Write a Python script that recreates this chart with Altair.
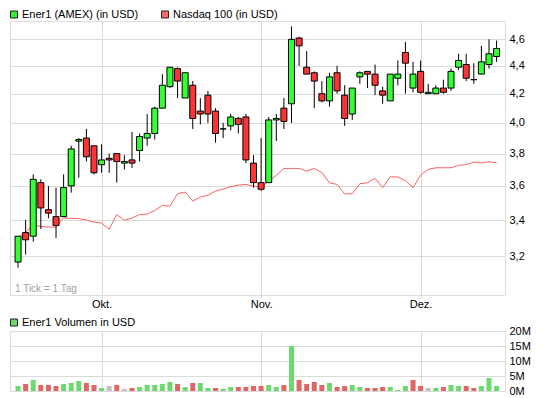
import altair as alt
import pandas as pd

# ---------------- data ----------------
dates = [
    "2010-09-16", "2010-09-17", "2010-09-20", "2010-09-21", "2010-09-22", "2010-09-23",
    "2010-09-24", "2010-09-27", "2010-09-28", "2010-09-29", "2010-09-30",
    "2010-10-01", "2010-10-04", "2010-10-05", "2010-10-06", "2010-10-07", "2010-10-08",
    "2010-10-11", "2010-10-12", "2010-10-13", "2010-10-14", "2010-10-15", "2010-10-18",
    "2010-10-19", "2010-10-20", "2010-10-21", "2010-10-22", "2010-10-25", "2010-10-26",
    "2010-10-27", "2010-10-28", "2010-10-29",
    "2010-11-01", "2010-11-02", "2010-11-03", "2010-11-04", "2010-11-05", "2010-11-08",
    "2010-11-09", "2010-11-10", "2010-11-11", "2010-11-12", "2010-11-15", "2010-11-16",
    "2010-11-17", "2010-11-18", "2010-11-19", "2010-11-22", "2010-11-23", "2010-11-24",
    "2010-11-26", "2010-11-29", "2010-11-30",
    "2010-12-01", "2010-12-02", "2010-12-03", "2010-12-06", "2010-12-07", "2010-12-08",
    "2010-12-09", "2010-12-10", "2010-12-13", "2010-12-14", "2010-12-15",
]
opens = [3.17, 3.33, 3.31, 3.62, 3.46, 3.42, 3.42, 3.60, 3.88, 3.90, 3.85, 3.73, 3.77, 3.80,
         3.74, 3.76, 3.82, 3.90, 3.93, 4.10, 4.25, 4.38, 4.17, 4.26, 4.08, 4.19, 4.08, 3.96,
         3.98, 4.03, 4.04, 3.74, 3.62, 3.62, 4.02, 4.10, 4.13, 4.61, 4.39, 4.35, 4.20, 4.15,
         4.35, 4.19, 4.06, 4.32, 4.36, 4.34, 4.22, 4.15, 4.31, 4.50, 4.24, 4.36, 4.20, 4.20,
         4.24, 4.24, 4.39, 4.41, 4.30, 4.34, 4.41, 4.47]
highs = [3.31, 3.40, 3.67, 3.64, 3.60, 3.59, 3.67, 3.85, 3.90, 3.96, 3.85, 3.86, 3.80, 3.80,
         3.79, 3.94, 3.93, 4.06, 4.11, 4.34, 4.39, 4.39, 4.35, 4.29, 4.17, 4.22, 4.10, 4.00,
         4.06, 4.04, 4.06, 3.79, 3.90, 4.04, 4.06, 4.17, 4.70, 4.62, 4.51, 4.36, 4.29, 4.35,
         4.40, 4.26, 4.24, 4.36, 4.36, 4.41, 4.25, 4.34, 4.44, 4.58, 4.43, 4.44, 4.27, 4.26,
         4.30, 4.38, 4.49, 4.49, 4.42, 4.55, 4.60, 4.59]
lows = [3.14, 3.21, 3.28, 3.35, 3.41, 3.30, 3.42, 3.56, 3.65, 3.75, 3.67, 3.68, 3.68, 3.62,
        3.70, 3.71, 3.75, 3.85, 3.89, 4.10, 4.24, 4.17, 4.17, 3.96, 3.99, 4.00, 3.87, 3.90,
        3.95, 3.93, 3.74, 3.59, 3.57, 3.62, 3.88, 3.96, 4.00, 4.40, 4.34, 4.10, 4.14, 4.11,
        4.20, 3.98, 4.02, 4.27, 4.24, 4.19, 4.13, 4.15, 4.26, 4.20, 4.21, 4.20, 4.20, 4.20,
        4.20, 4.22, 4.37, 4.29, 4.27, 4.34, 4.38, 4.43]
closes = [3.31, 3.29, 3.64, 3.47, 3.44, 3.37, 3.59, 3.83, 3.89, 3.78, 3.68, 3.76, 3.76, 3.75,
          3.75, 3.74, 3.91, 3.93, 4.10, 4.26, 4.39, 4.29, 4.35, 4.03, 4.06, 4.06, 3.93, 3.96,
          4.04, 3.99, 3.76, 3.62, 3.58, 4.02, 4.03, 4.01, 4.60, 4.55, 4.34, 4.29, 4.15, 4.32,
          4.22, 4.03, 4.24, 4.35, 4.34, 4.26, 4.19, 4.34, 4.34, 4.42, 4.34, 4.21, 4.21, 4.24,
          4.21, 4.36, 4.44, 4.31, 4.30, 4.43, 4.49, 4.53]
# Nasdaq 100, rebased onto the Ener1 price scale
nasdaq = [3.300, 3.333, 3.372, 3.364, 3.361, 3.361, 3.413, 3.410, 3.409, 3.400, 3.389, 3.383,
          3.349, 3.432, 3.400, 3.412, 3.432, 3.434, 3.455, 3.484, 3.481, 3.554, 3.563, 3.510,
          3.533, 3.545, 3.569, 3.581, 3.595, 3.605, 3.609, 3.599, 3.593, 3.629, 3.663, 3.707,
          3.707, 3.707, 3.690, 3.707, 3.681, 3.619, 3.609, 3.552, 3.554, 3.613, 3.620, 3.646,
          3.590, 3.656, 3.654, 3.632, 3.589, 3.666, 3.701, 3.711, 3.711, 3.711, 3.726, 3.731,
          3.747, 3.741, 3.749, 3.741]
# volume in millions of USD, and its direction (u = up, d = down, n = unchanged)
volume_m = [1.67, 2.33, 3.67, 2.0, 2.0, 1.67, 2.33, 2.67, 3.33, 2.67, 2.0, 1.0, 1.67, 2.0,
            0.67, 1.0, 1.33, 2.0, 2.0, 2.33, 3.0, 2.33, 1.33, 2.67, 2.67, 1.0, 1.0, 0.67,
            1.33, 1.33, 1.33, 1.67, 1.67, 2.0, 1.33, 2.0, 15.0, 3.67, 2.33, 3.0, 2.0, 2.67,
            1.33, 1.67, 2.0, 1.33, 1.0, 1.0, 1.33, 1.33, 0.33, 1.67, 3.67, 1.67, 1.0, 1.0,
            1.33, 2.0, 1.67, 1.67, 1.0, 1.67, 4.33, 1.67]
vol_dir = ["u", "d", "u", "d", "d", "d", "u", "u", "u", "d", "d", "u", "n", "d",
           "n", "d", "u", "u", "u", "u", "u", "d", "u", "d", "u", "u", "d", "u",
           "u", "d", "d", "d", "d", "u", "u", "d", "u", "d", "d", "d", "d", "u",
           "d", "d", "u", "u", "d", "d", "d", "u", "u", "u", "d", "d", "n", "u",
           "d", "u", "u", "d", "d", "u", "u", "u"]
month_labels = ["Okt.", "Nov.", "Dez."]
price_ticks = [3.2, 3.4, 3.6, 3.8, 4.0, 4.2, 4.4, 4.6]
volume_ticks = [0, 5e6, 10e6, 15e6, 20e6]

# ---------------- table ----------------
df = pd.DataFrame({
    "i": list(range(len(dates))), "date": dates, "open": opens, "high": highs,
    "low": lows, "close": closes, "nasdaq": nasdaq,
    "vol": [v * 1e6 for v in volume_m], "vdir": vol_dir,
})
month_idx = [k for k in range(1, len(dates)) if dates[k][5:7] != dates[k - 1][5:7]]
label_expr = "''"
for k, lab in reversed(list(zip(month_idx, month_labels))):
    label_expr = f"datum.value == {k} ? '{lab}' : ({label_expr})"

# ---------------- style ----------------
FONT = "Liberation Sans"
GRID = "#dadada"
FRAME = "#c8c8c8"
C_UP, C_DOWN = "#33ff33", "#ff3333"
V_UP, V_DOWN, V_FLAT = "#6cd96c", "#e06666", "#c0c0c0"
W, H1, H2 = 495, 274, 60

xscale = alt.Scale(domain=[-0.4, 63.45], nice=False, zero=False)
yscale = alt.Scale(type="log", domain=[3.0, 4.743], nice=False)

x_main_axis = alt.Axis(values=month_idx, labelExpr=label_expr, grid=True, gridColor=GRID,
                       ticks=True, tickSize=3, tickColor=GRID, domain=False, labelPadding=0,
                       labelFont=FONT, labelFontSize=11, labelColor="black", labelAngle=0,
                       title=None)
y_main_axis = alt.Axis(orient="right", values=price_ticks,
                       labelExpr="replace(format(datum.value, '.1f'), '.', ',')",
                       grid=True, gridColor=GRID, ticks=False, domain=False, labelPadding=4,
                       labelFont=FONT, labelFontSize=11, labelColor="black", title=None)

base = alt.Chart(df)

nas_line = base.mark_line(color="#ff6060", strokeWidth=1).encode(
    x=alt.X("i:Q", scale=xscale, axis=x_main_axis),
    y=alt.Y("nasdaq:Q", scale=yscale, axis=y_main_axis),
)
wicks = base.mark_rule(color="black", strokeWidth=1).encode(
    x=alt.X("i:Q"), y=alt.Y("low:Q", title=None), y2="high:Q",
)
bodies = base.transform_calculate(
    lo="min(datum.open, datum.close)",
    hi="max(datum.open, datum.close)",
    col=f"datum.close >= datum.open ? '{C_UP}' : '{C_DOWN}'",
).mark_bar(width=6, stroke="black", strokeWidth=1, orient="vertical", opacity=1).encode(
    x=alt.X("i:Q"), y=alt.Y("lo:Q", title=None), y2="hi:Q",
    fill=alt.Fill("col:N", scale=None),
)


def legend_item(label, fill, sx, tx, ty):
    d = alt.Data(values=[{"t": label}])
    sq = alt.Chart(d).mark_square(size=49, fill=fill, stroke="#222222", strokeWidth=1,
                                  opacity=1).encode(x=alt.value(sx), y=alt.value(ty - 3.5))
    tt = alt.Chart(d).mark_text(align="left", baseline="alphabetic", font=FONT, fontSize=11,
                                color="black").encode(x=alt.value(tx), y=alt.value(ty),
                                                      text="t:N")
    return [sq, tt]


tick_note = alt.Chart(alt.Data(values=[{"t": "1 Tick = 1 Tag"}])).mark_text(
    align="left", baseline="alphabetic", font=FONT, fontSize=10, color="#a0a0a0"
).encode(x=alt.value(5), y=alt.value(H1 - 3), text="t:N")

main = alt.layer(
    nas_line, wicks, bodies, tick_note,
    *legend_item("Ener1 (AMEX) (in USD)", "#33ee33", 4, 12, -3),
    *legend_item("Nasdaq 100 (in USD)", "#ff6666", 155, 163, -3),
).properties(width=W, height=H1)

vol_bars = base.transform_calculate(
    col=f"datum.vdir == 'u' ? '{V_UP}' : (datum.vdir == 'd' ? '{V_DOWN}' : '{V_FLAT}')"
).mark_bar(width=5, orient="vertical").encode(
    x=alt.X("i:Q", scale=xscale,
            axis=alt.Axis(values=month_idx, labels=False, ticks=False, domain=False,
                          grid=True, gridColor=GRID, title=None)),
    y=alt.Y("vol:Q", scale=alt.Scale(domain=[0, 20e6], nice=False),
            axis=alt.Axis(orient="right", values=volume_ticks,
                          labelExpr="(datum.value / 1000000) + 'M'", grid=True,
                          gridColor=GRID, ticks=False, domain=False, labelPadding=4,
                          labelFont=FONT, labelFontSize=11, labelColor="black", title=None)),
    fill=alt.Fill("col:N", scale=None),
)

volume = alt.layer(
    vol_bars, *legend_item("Ener1 Volumen in USD", "#6cd96c", 4, 12, -5),
).properties(width=W, height=H2)

chart = alt.vconcat(main, volume, spacing=6).properties(
    padding=0, background="white"
).configure_view(stroke=FRAME, strokeWidth=1).configure(font=FONT)

chart.save("out.html", embed_options={"renderer": "svg", "actions": False})
